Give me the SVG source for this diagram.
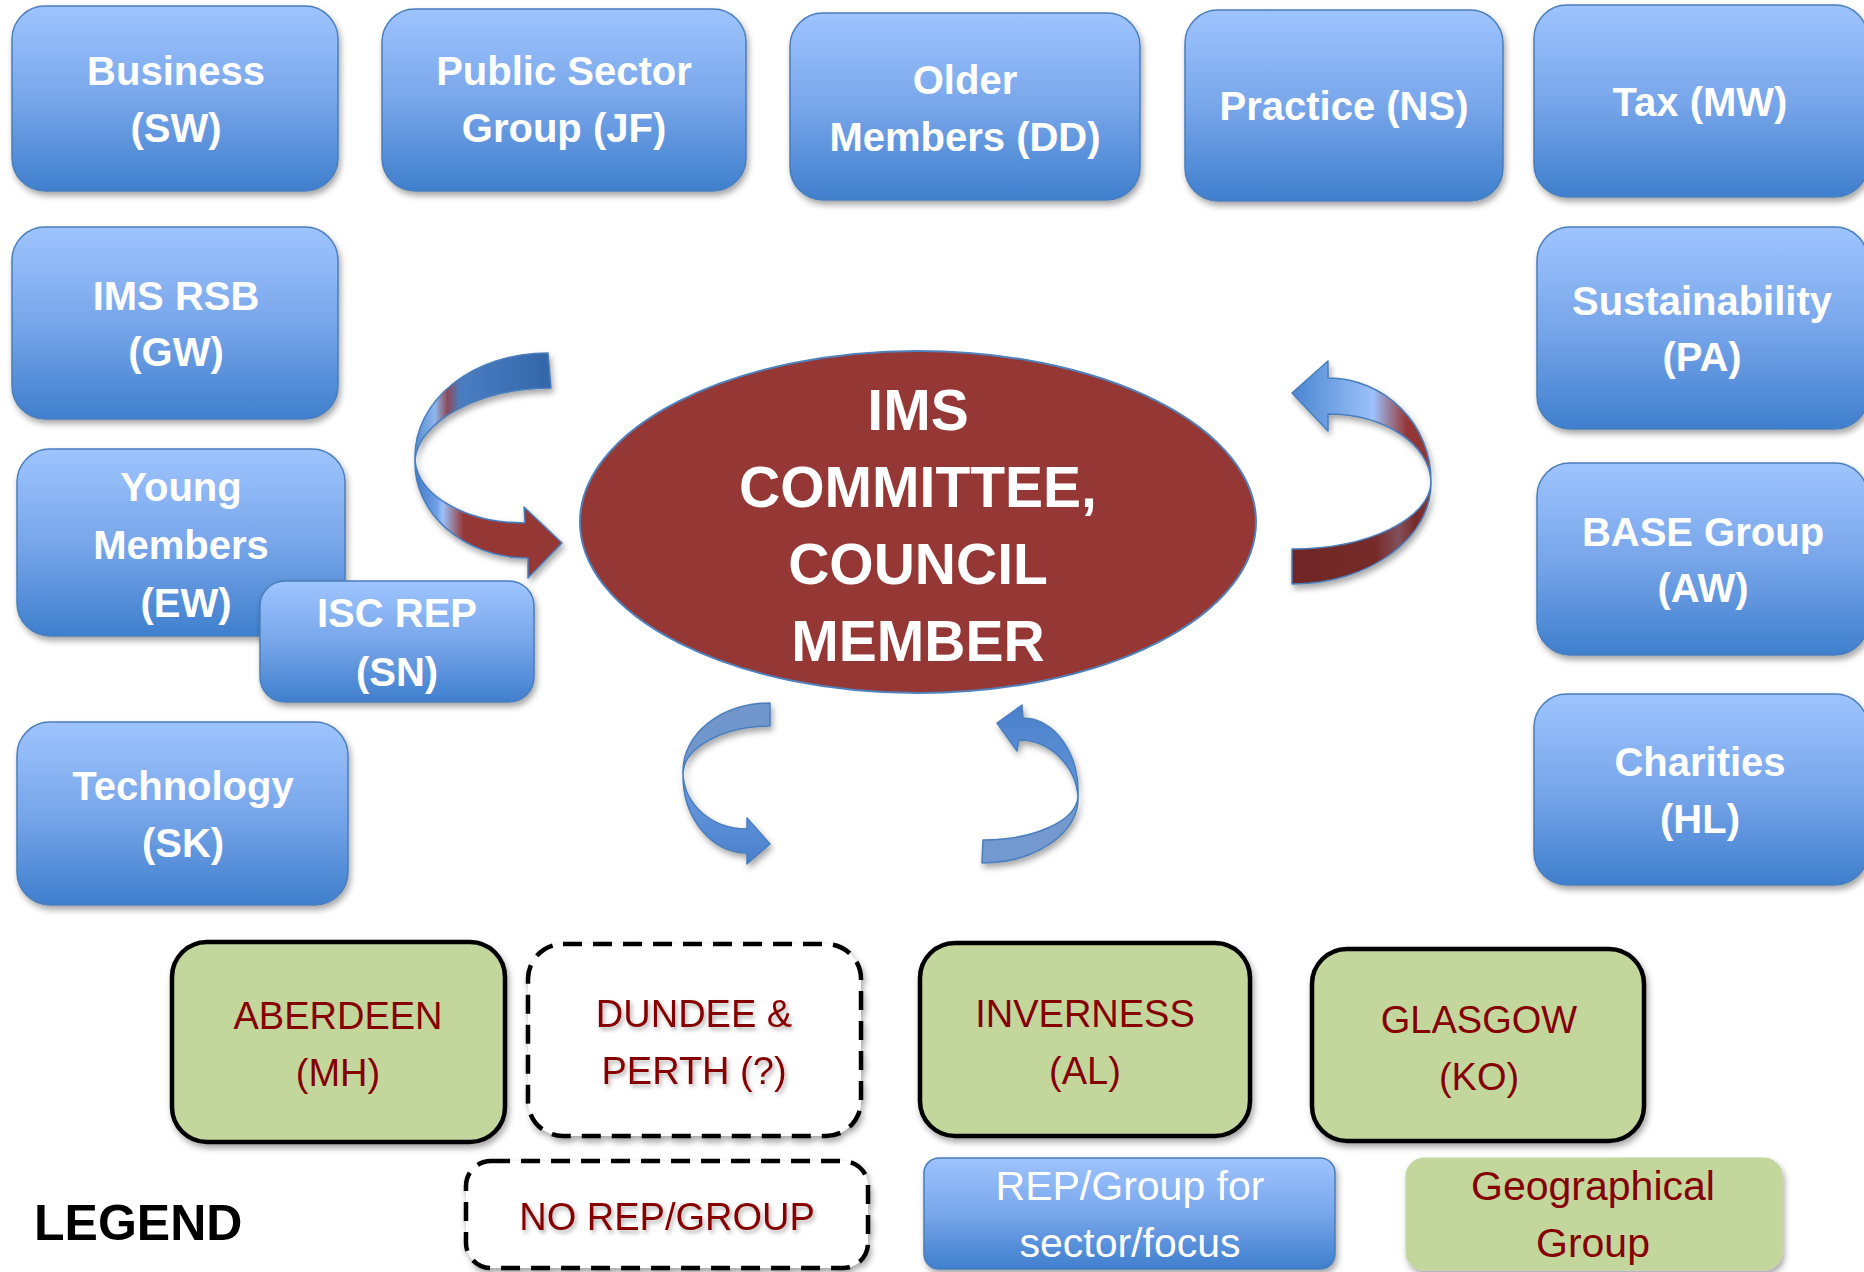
<svg xmlns="http://www.w3.org/2000/svg" width="1864" height="1272" viewBox="0 0 1864 1272">
<style>
.bx{fill:url(#blueG);stroke:#4a7ebb;stroke-width:1.5}
.gr{fill:#c3d69b;stroke:#000;stroke-width:4.5}
.ds{fill:#fff;stroke:#000;stroke-width:4.5;stroke-dasharray:19 11}
.bt{font-family:"Liberation Sans",Arial,sans-serif;font-weight:bold;font-size:40px;fill:#fff;text-anchor:middle}
.gt{font-family:"Liberation Sans",Arial,sans-serif;font-size:38px;fill:#850000;text-anchor:middle}
.et{font-family:"Liberation Sans",Arial,sans-serif;font-weight:bold;font-size:57px;fill:#fff;text-anchor:middle}
.lt{font-family:"Liberation Sans",Arial,sans-serif;font-size:41px;text-anchor:middle}
.ar{stroke:#4a7ebb;stroke-width:1.5;stroke-linejoin:round}
</style>
<defs>
<linearGradient id="blueG" x1="0" y1="0" x2="0" y2="1">
<stop offset="0" stop-color="#9ec4fe"/>
<stop offset="0.5" stop-color="#78a6ea"/>
<stop offset="1" stop-color="#3f7fcd"/>
</linearGradient>
<filter id="sh" x="-10%" y="-10%" width="120%" height="130%">
<feDropShadow dx="2" dy="4" stdDeviation="3" flood-color="#000" flood-opacity="0.35"/>
</filter>
<filter id="tsh" x="-10%" y="-20%" width="120%" height="150%">
<feDropShadow dx="2" dy="3" stdDeviation="2" flood-color="#000" flood-opacity="0.3"/>
</filter>
<linearGradient id="lU" gradientUnits="userSpaceOnUse" x1="413" y1="0" x2="551" y2="0">
<stop offset="0" stop-color="#4f87d2"/>
<stop offset="0.16" stop-color="#8fb6ec"/>
<stop offset="0.25" stop-color="#8d4a58"/>
<stop offset="0.34" stop-color="#4a7dc2"/>
<stop offset="1" stop-color="#3366a8"/>
</linearGradient>
<linearGradient id="lL" gradientUnits="userSpaceOnUse" x1="413" y1="0" x2="562" y2="0">
<stop offset="0" stop-color="#3f78c8"/>
<stop offset="0.16" stop-color="#6e9fe6"/>
<stop offset="0.2" stop-color="#9cc1fb"/>
<stop offset="0.34" stop-color="#953735"/>
<stop offset="1" stop-color="#953735"/>
</linearGradient>
<linearGradient id="rU" gradientUnits="userSpaceOnUse" x1="1292" y1="0" x2="1432" y2="0">
<stop offset="0" stop-color="#4a86d0"/>
<stop offset="0.58" stop-color="#9cc1fb"/>
<stop offset="0.82" stop-color="#953735"/>
<stop offset="1" stop-color="#8f3433"/>
</linearGradient>
<linearGradient id="rL" gradientUnits="userSpaceOnUse" x1="1292" y1="0" x2="1432" y2="0">
<stop offset="0" stop-color="#6e2726"/>
<stop offset="0.6" stop-color="#772b2a"/>
<stop offset="0.76" stop-color="#82505a"/>
<stop offset="0.88" stop-color="#772b2a"/>
<stop offset="1" stop-color="#8a3434"/>
</linearGradient>
<linearGradient id="bL" gradientUnits="userSpaceOnUse" x1="0" y1="773" x2="0" y2="864">
<stop offset="0" stop-color="#6d9ee4"/>
<stop offset="1" stop-color="#4a80cc"/>
</linearGradient>
<linearGradient id="bR" gradientUnits="userSpaceOnUse" x1="0" y1="705" x2="0" y2="797">
<stop offset="0" stop-color="#4a80cc"/>
<stop offset="1" stop-color="#6396da"/>
</linearGradient>
</defs>
<rect width="1864" height="1272" fill="#fff"/>

<g id="business"><rect class="bx" x="12" y="6" width="326" height="185" rx="33" filter="url(#sh)"/><text class="bt" x="176" y="85">Business</text><text class="bt" x="176" y="142">(SW)</text></g>
<g id="public-sector"><rect class="bx" x="382" y="9" width="364" height="182" rx="33" filter="url(#sh)"/><text class="bt" x="564" y="85">Public Sector</text><text class="bt" x="564" y="142">Group (JF)</text></g>
<g id="older-members"><rect class="bx" x="790" y="13" width="350" height="187" rx="33" filter="url(#sh)"/><text class="bt" x="965" y="94">Older</text><text class="bt" x="965" y="151">Members (DD)</text></g>
<g id="practice"><rect class="bx" x="1185" y="10" width="318" height="191" rx="33" filter="url(#sh)"/><text class="bt" x="1344" y="120">Practice (NS)</text></g>
<g id="tax"><rect class="bx" x="1534" y="5" width="334" height="192" rx="33" filter="url(#sh)"/><text class="bt" x="1700" y="116">Tax (MW)</text></g>
<g id="ims-rsb"><rect class="bx" x="12" y="227" width="326" height="192" rx="33" filter="url(#sh)"/><text class="bt" x="176" y="310">IMS RSB</text><text class="bt" x="176" y="366">(GW)</text></g>
<g id="young-members"><rect class="bx" x="17" y="449" width="328" height="187" rx="33" filter="url(#sh)"/><text class="bt" x="181" y="501">Young</text><text class="bt" x="181" y="559">Members</text><text class="bt" x="186" y="617">(EW)</text></g>
<g id="isc-rep"><rect class="bx" x="260" y="581" width="274" height="121" rx="25" filter="url(#sh)"/><text class="bt" x="397" y="627">ISC REP</text><text class="bt" x="397" y="686">(SN)</text></g>
<g id="technology"><rect class="bx" x="17" y="722" width="331" height="183" rx="33" filter="url(#sh)"/><text class="bt" x="183" y="800">Technology</text><text class="bt" x="183" y="857">(SK)</text></g>
<g id="sustainability"><rect class="bx" x="1537" y="227" width="331" height="202" rx="33" filter="url(#sh)"/><text class="bt" x="1702" y="315">Sustainability</text><text class="bt" x="1702" y="371">(PA)</text></g>
<g id="base-group"><rect class="bx" x="1537" y="463" width="331" height="192" rx="33" filter="url(#sh)"/><text class="bt" x="1703" y="546">BASE Group</text><text class="bt" x="1703" y="602">(AW)</text></g>
<g id="charities"><rect class="bx" x="1534" y="694" width="334" height="191" rx="33" filter="url(#sh)"/><text class="bt" x="1700" y="776">Charities</text><text class="bt" x="1700" y="833">(HL)</text></g>

<g id="committee"><ellipse cx="918" cy="522" rx="338" ry="171" fill="#953735" stroke="#4f81bd" stroke-width="2"/><text class="et" x="918" y="430">IMS</text><text class="et" x="918" y="507">COMMITTEE,</text><text class="et" x="918" y="584">COUNCIL</text><text class="et" x="918" y="661">MEMBER</text></g>

<g id="aberdeen"><rect class="gr" x="172" y="942" width="333" height="200" rx="35" filter="url(#sh)"/><text class="gt" x="338" y="1029">ABERDEEN</text><text class="gt" x="338" y="1086">(MH)</text></g>
<g id="dundee-perth"><rect class="ds" x="528" y="944" width="333" height="192" rx="35" filter="url(#sh)"/><g filter="url(#tsh)"><text class="gt" x="694" y="1027">DUNDEE &amp;</text><text class="gt" x="694" y="1084">PERTH (?)</text></g></g>
<g id="inverness"><rect class="gr" x="920" y="943" width="330" height="193" rx="35" filter="url(#sh)"/><text class="gt" x="1085" y="1027">INVERNESS</text><text class="gt" x="1085" y="1084">(AL)</text></g>
<g id="glasgow"><rect class="gr" x="1312" y="949" width="332" height="192" rx="35" filter="url(#sh)"/><text class="gt" x="1479" y="1033">GLASGOW</text><text class="gt" x="1479" y="1090">(KO)</text></g>

<g id="legend">
<text x="34" y="1240" font-family="'Liberation Sans',Arial,sans-serif" font-weight="bold" font-size="50" fill="#000">LEGEND</text>
<g id="legend-no-rep"><rect class="ds" x="466" y="1161" width="402" height="107" rx="25" filter="url(#sh)"/><text class="gt" x="667" y="1230" font-size="39" filter="url(#tsh)">NO REP/GROUP</text></g>
<g id="legend-rep"><rect class="bx" x="924" y="1158" width="411" height="111" rx="15" filter="url(#sh)"/><text class="lt" x="1130" y="1200" fill="#fff">REP/Group for</text><text class="lt" x="1130" y="1257" fill="#fff">sector/focus</text></g>
<g id="legend-geo"><rect x="1406" y="1158" width="376" height="112" rx="18" fill="#c3d69b" stroke="#c3d69b" filter="url(#sh)"/><text class="lt" x="1593" y="1200" fill="#850000">Geographical</text><text class="lt" x="1593" y="1257" fill="#850000">Group</text></g>
</g>

<g id="connectors" filter="url(#sh)">
<g id="arrow-left">
<path class="ar" fill="url(#lU)" d="M548,353 C473,353 413,400 415,460 C418,422 478,388 551,388 Z"/>
<path class="ar" fill="url(#lL)" d="M415,460 C413,513 464,558 528,558 L528,578 L562,543 L524,507 L525,523 C466,523 418,496 415,460 Z"/>
</g>
<g id="arrow-right">
<path class="ar" fill="url(#rU)" d="M1292,393 L1328,361 L1328,378 C1385,378 1432,425 1431,482 C1430,444 1384,414 1328,414 L1328,431 Z"/>
<path class="ar" fill="url(#rL)" d="M1431,482 C1432,538 1369,584 1292,584 L1292,549 C1368,549 1430,519 1431,482 Z"/>
</g>
<g id="arrow-bottom-left">
<path class="ar" fill="#7096cc" d="M770,703 C721,703 682,734 683,773 C684,748 723,726 770,726 Z"/>
<path class="ar" fill="url(#bL)" d="M683,773 C682,817 711,853 747,853 L747,864 L770,844 L747,818 L747,829 C712,829 684,805 683,773 Z"/>
</g>
<g id="arrow-bottom-right">
<path class="ar" fill="url(#bR)" d="M997,723 L1022,705 L1023,718 C1054,718 1080,753 1078,797 C1076,766 1050,740 1019,740 L1017,751 Z"/>
<path class="ar" fill="#7399cf" d="M1078,797 C1080,832 1036,863 982,863 L983,840 C1034,840 1076,821 1078,797 Z"/>
</g>
</g>
</svg>
